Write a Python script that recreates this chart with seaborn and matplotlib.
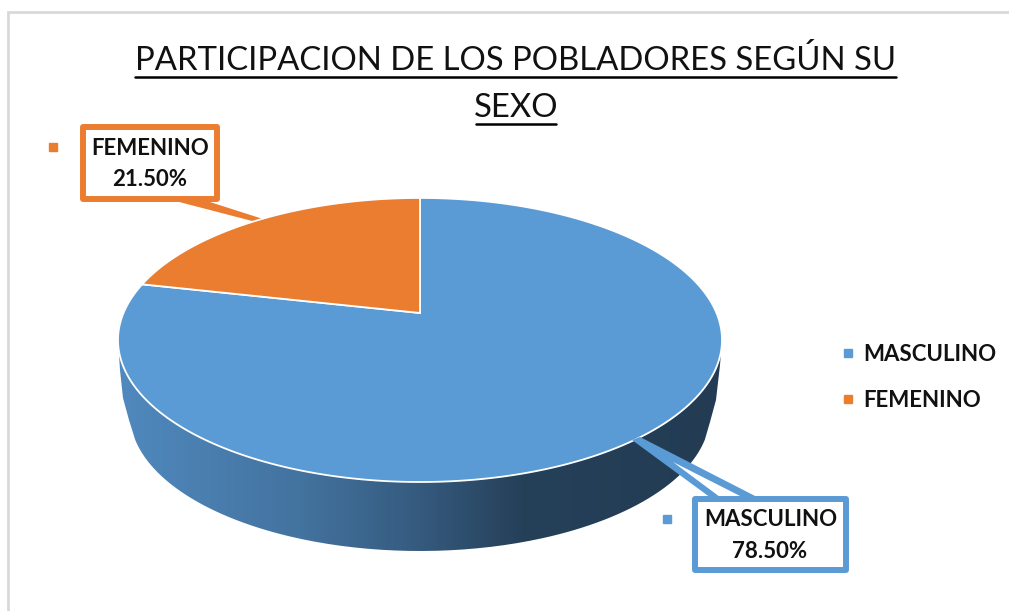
import numpy as np
import matplotlib
matplotlib.use("Agg")
import matplotlib.pyplot as plt
import seaborn as sns
from matplotlib.colors import LinearSegmentedColormap
from matplotlib.lines import Line2D
from matplotlib.patches import PathPatch, Polygon, Rectangle
from matplotlib.path import Path
from matplotlib.transforms import Transform

# data
categories = ["MASCULINO", "FEMENINO"]
shares = [78.5, 21.5]
share_labels = ["78.50%", "21.50%"]
title_lines = ["PARTICIPACION DE LOS POBLADORES SEGÚN SU", "SEXO"]

BLUE = "#5B9BD5"
ORANGE = "#EB7D31"
INK = "#111111"


# perspective of the tilted pie, unit circle -> picture pixels
class Tilt(Transform):
    input_dims = 2
    output_dims = 2
    is_affine = False
    has_inverse = False

    def __init__(self, cx, cy, a, b, k):
        super().__init__()
        self.cx, self.cy, self.a, self.b, self.k = cx, cy, a, b, k

    def transform_non_affine(self, xy):
        xy = np.asarray(xy, dtype=float)
        s = 1 / (1 + self.k * xy[:, 1])
        return np.column_stack([self.cx + self.a * xy[:, 0] * s, self.cy - self.b * xy[:, 1] * s])

    def transform_path_non_affine(self, path):
        # flatten the arcs at a big scale so they stay smooth
        big = Path(path.vertices * 2000, path.codes)
        polys = big.to_polygons(closed_only=False)
        return Path(self.transform_non_affine(polys[0] / 2000))


sns.set_theme(style="white")
plt.rcParams["font.family"] = ["Lato", "DejaVu Sans"]

fig = plt.figure(figsize=(10.09, 6.11), dpi=100, facecolor="white")
ax = fig.add_axes([0, 0, 1, 1])

# pie top
wedges, _ = ax.pie(shares, colors=[BLUE, ORANGE], startangle=90, counterclock=False,
                   wedgeprops={"edgecolor": "white", "linewidth": 1.3, "zorder": 5})
tilt = Tilt(420, 313, 296.5, 136.9, 0.19)
for w in wedges:
    w.set_transform(tilt + ax.transData)

ax.set_aspect("auto")
ax.axis("off")

# pie side, shaded left to right
side_cmap = LinearSegmentedColormap.from_list(
    "side", [(0, "#5089BE"), (0.3, "#43739F"), (0.5, "#355A7E"), (0.67, "#254059"), (1, "#233C54")])
img = ax.imshow(np.linspace(0, 1, 400).reshape(1, -1), cmap=side_cmap, aspect="auto",
                extent=(118, 722, 552, 335), zorder=2)
t = np.linspace(np.pi, 0, 200)
top_edge = np.column_stack([420 + 302 * np.cos(t), 340 + 142 * np.sin(t)])
low_edge = np.column_stack([420 + 290 * np.cos(t), 414 + 137 * np.sin(t)])
low_edge = low_edge[(low_edge[:, 1] > 438)]
right_join = [(722, 340), (720, 365), (716, 400), (710, 422)]
left_join = [(129, 420), (123, 398), (120, 370), (118, 340)]
side = PathPatch(Path(np.vstack([top_edge, right_join, low_edge[::-1], left_join])), transform=ax.transData,
                 facecolor="none", edgecolor="none")
ax.add_patch(side)
img.set_clip_path(side)
ax.set_xlim(0, 1009)
ax.set_ylim(611, 0)

# chart border
ax.plot([8, 8, 1009], [611, 12, 12], color="#D9D9D9", lw=2, solid_joinstyle="miter", zorder=1)

# title, underlined by hand
ax.text(515.5, 61, title_lines[0], ha="center", va="center", fontsize=23.7, color=INK)
ax.text(516, 108, title_lines[1], ha="center", va="center", fontsize=23.7, color=INK)
ax.plot([135, 896], [76.5, 76.5], color="black", lw=1.8, zorder=3)
ax.plot([476, 556], [124, 124], color="black", lw=1.8, zorder=3)

# callout boxes
ax.add_patch(Polygon([(160, 197), (256, 222), (263, 219), (213, 203), (193, 196)],
                     facecolor=ORANGE, edgecolor="none", zorder=3))
ax.add_patch(Rectangle((83, 127), 134, 72, facecolor="white", edgecolor=ORANGE, lw=4.3,
                       joinstyle="round", zorder=4))
ax.add_patch(Polygon([(632, 440), (640, 437), (759, 498), (711, 498)],
                     facecolor=BLUE, edgecolor="none", zorder=6))
ax.add_patch(Polygon([(673, 462), (748, 500), (724, 500)], facecolor="white", edgecolor="none", zorder=6))
ax.add_patch(Rectangle((695, 499), 151, 71, facecolor="none", edgecolor=BLUE, lw=4.3,
                       joinstyle="round", zorder=6))
ax.add_patch(Rectangle((698, 502), 145, 65, facecolor="white", edgecolor="none", zorder=6))

ax.text(150, 148.5, categories[1], ha="center", va="center", fontsize=16, fontweight="bold",
        color=INK, zorder=7)
ax.text(150, 179.5, share_labels[1], ha="center", va="center", fontsize=16, fontweight="bold",
        color=INK, zorder=7)
ax.text(770.5, 520, categories[0], ha="center", va="center", fontsize=16, fontweight="bold",
        color=INK, zorder=7)
ax.text(770, 552, share_labels[0], ha="center", va="center", fontsize=16, fontweight="bold",
        color=INK, zorder=7)
ax.plot([53], [147], marker="s", ms=6, color=ORANGE, ls="none", zorder=7)
ax.plot([666.5], [518.5], marker="s", ms=6.2, color=BLUE, ls="none", zorder=7)

# legend
handles = [Line2D([], [], marker="s", ls="none", ms=6.2, color=c) for c in (BLUE, ORANGE)]
ax.legend(handles, categories, loc="upper left", bbox_to_anchor=(813, 324), bbox_transform=ax.transData,
          frameon=False, handletextpad=0.0, handlelength=1.37, labelspacing=1.12,
          prop={"size": 16, "weight": "bold"}, labelcolor=INK)

fig.savefig("out.png", dpi=100)
